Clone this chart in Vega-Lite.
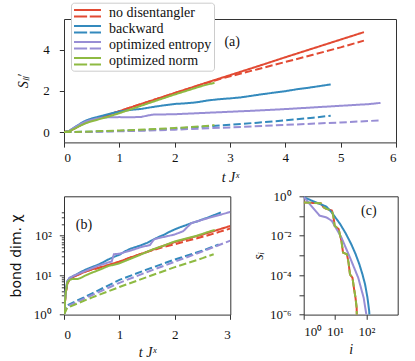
{
  "$schema": "https://vega.github.io/schema/vega-lite/v6.json",
  "padding": {"left": 8, "top": 2, "right": 5, "bottom": 5},
  "background": "white",
  "config": {
    "font": "Liberation Serif",
    "view": {"stroke": "#333", "strokeWidth": 1},
    "style": {"guide-label": {"font": "Liberation Serif"}, "guide-title": {"font": "Liberation Serif"}},
    "legend": {"labelFont": "Liberation Serif"},
    "axis": {"domain": false, "grid": false, "tickColor": "#333", "tickSize": 4.7, "labelPadding": 6,
      "labelFont": "Liberation Serif", "labelFontSize": 13, "labelColor": "#111",
      "titleFont": "Liberation Serif", "titleFontSize": 14, "titleFontWeight": "normal", "titleColor": "#111", "labelOverlap": false}
  },
  "datasets": {
    "a": [
      {"m":"no disentangler","k":"solid","x":0,"y":0},{"m":"no disentangler","k":"solid","x":0.1,"y":0.05},{"m":"no disentangler","k":"solid","x":0.2,"y":0.19},{"m":"no disentangler","k":"solid","x":0.3,"y":0.34},{"m":"no disentangler","k":"solid","x":0.4,"y":0.47},{"m":"no disentangler","k":"solid","x":0.5,"y":0.57},{"m":"no disentangler","k":"solid","x":0.6,"y":0.66},{"m":"no disentangler","k":"solid","x":0.8,"y":0.84},{"m":"no disentangler","k":"solid","x":1.0,"y":1.02},{"m":"no disentangler","k":"solid","x":1.5,"y":1.46},{"m":"no disentangler","k":"solid","x":2.0,"y":1.9},{"m":"no disentangler","k":"solid","x":2.5,"y":2.34},{"m":"no disentangler","k":"solid","x":3.0,"y":2.77},{"m":"no disentangler","k":"solid","x":3.5,"y":3.2},{"m":"no disentangler","k":"solid","x":4.0,"y":3.64},{"m":"no disentangler","k":"solid","x":4.5,"y":4.07},{"m":"no disentangler","k":"solid","x":5.0,"y":4.5},{"m":"no disentangler","k":"solid","x":5.42,"y":4.86},
      {"m":"no disentangler","k":"dashed","x":0,"y":0},{"m":"no disentangler","k":"dashed","x":0.1,"y":0.05},{"m":"no disentangler","k":"dashed","x":0.2,"y":0.19},{"m":"no disentangler","k":"dashed","x":0.3,"y":0.34},{"m":"no disentangler","k":"dashed","x":0.4,"y":0.47},{"m":"no disentangler","k":"dashed","x":0.5,"y":0.57},{"m":"no disentangler","k":"dashed","x":0.6,"y":0.66},{"m":"no disentangler","k":"dashed","x":0.8,"y":0.84},{"m":"no disentangler","k":"dashed","x":1.0,"y":1.02},{"m":"no disentangler","k":"dashed","x":1.5,"y":1.46},{"m":"no disentangler","k":"dashed","x":2.0,"y":1.9},{"m":"no disentangler","k":"dashed","x":2.5,"y":2.33},{"m":"no disentangler","k":"dashed","x":2.8,"y":2.57},{"m":"no disentangler","k":"dashed","x":3.0,"y":2.71},{"m":"no disentangler","k":"dashed","x":3.5,"y":3.06},{"m":"no disentangler","k":"dashed","x":4.0,"y":3.41},{"m":"no disentangler","k":"dashed","x":4.5,"y":3.76},{"m":"no disentangler","k":"dashed","x":5.0,"y":4.12},{"m":"no disentangler","k":"dashed","x":5.42,"y":4.45},
      {"m":"backward","k":"solid","x":0,"y":0},{"m":"backward","k":"solid","x":0.1,"y":0.07},{"m":"backward","k":"solid","x":0.2,"y":0.25},{"m":"backward","k":"solid","x":0.3,"y":0.42},{"m":"backward","k":"solid","x":0.4,"y":0.57},{"m":"backward","k":"solid","x":0.5,"y":0.66},{"m":"backward","k":"solid","x":0.6,"y":0.73},{"m":"backward","k":"solid","x":0.7,"y":0.8},{"m":"backward","k":"solid","x":0.8,"y":0.87},{"m":"backward","k":"solid","x":0.9,"y":0.94},{"m":"backward","k":"solid","x":1.0,"y":1.0},{"m":"backward","k":"solid","x":1.2,"y":1.08},{"m":"backward","k":"solid","x":1.4,"y":1.13},{"m":"backward","k":"solid","x":1.6,"y":1.22},{"m":"backward","k":"solid","x":1.8,"y":1.3},{"m":"backward","k":"solid","x":2.0,"y":1.37},{"m":"backward","k":"solid","x":2.2,"y":1.4},{"m":"backward","k":"solid","x":2.4,"y":1.45},{"m":"backward","k":"solid","x":2.6,"y":1.54},{"m":"backward","k":"solid","x":2.8,"y":1.6},{"m":"backward","k":"solid","x":3.0,"y":1.64},{"m":"backward","k":"solid","x":3.2,"y":1.69},{"m":"backward","k":"solid","x":3.4,"y":1.77},{"m":"backward","k":"solid","x":3.6,"y":1.85},{"m":"backward","k":"solid","x":3.8,"y":1.92},{"m":"backward","k":"solid","x":4.0,"y":1.99},{"m":"backward","k":"solid","x":4.2,"y":2.08},{"m":"backward","k":"solid","x":4.4,"y":2.15},{"m":"backward","k":"solid","x":4.6,"y":2.23},{"m":"backward","k":"solid","x":4.82,"y":2.32},
      {"m":"backward","k":"dashed","x":0,"y":0},{"m":"backward","k":"dashed","x":0.5,"y":0.02},{"m":"backward","k":"dashed","x":1.0,"y":0.06},{"m":"backward","k":"dashed","x":1.5,"y":0.11},{"m":"backward","k":"dashed","x":2.0,"y":0.17},{"m":"backward","k":"dashed","x":2.5,"y":0.26},{"m":"backward","k":"dashed","x":3.0,"y":0.36},{"m":"backward","k":"dashed","x":3.5,"y":0.46},{"m":"backward","k":"dashed","x":4.0,"y":0.57},{"m":"backward","k":"dashed","x":4.5,"y":0.7},{"m":"backward","k":"dashed","x":4.82,"y":0.8},
      {"m":"optimized entropy","k":"solid","x":0,"y":0},{"m":"optimized entropy","k":"solid","x":0.1,"y":0.07},{"m":"optimized entropy","k":"solid","x":0.2,"y":0.24},{"m":"optimized entropy","k":"solid","x":0.3,"y":0.4},{"m":"optimized entropy","k":"solid","x":0.4,"y":0.52},{"m":"optimized entropy","k":"solid","x":0.5,"y":0.6},{"m":"optimized entropy","k":"solid","x":0.6,"y":0.66},{"m":"optimized entropy","k":"solid","x":0.7,"y":0.7},{"m":"optimized entropy","k":"solid","x":0.8,"y":0.72},{"m":"optimized entropy","k":"solid","x":1.0,"y":0.73},{"m":"optimized entropy","k":"solid","x":1.2,"y":0.72},{"m":"optimized entropy","k":"solid","x":1.4,"y":0.74},{"m":"optimized entropy","k":"solid","x":1.5,"y":0.8},{"m":"optimized entropy","k":"solid","x":1.6,"y":0.85},{"m":"optimized entropy","k":"solid","x":1.8,"y":0.86},{"m":"optimized entropy","k":"solid","x":2.0,"y":0.87},{"m":"optimized entropy","k":"solid","x":2.5,"y":0.93},{"m":"optimized entropy","k":"solid","x":3.0,"y":0.99},{"m":"optimized entropy","k":"solid","x":3.5,"y":1.05},{"m":"optimized entropy","k":"solid","x":4.0,"y":1.12},{"m":"optimized entropy","k":"solid","x":4.5,"y":1.2},{"m":"optimized entropy","k":"solid","x":5.0,"y":1.28},{"m":"optimized entropy","k":"solid","x":5.5,"y":1.36},{"m":"optimized entropy","k":"solid","x":5.72,"y":1.42},
      {"m":"optimized entropy","k":"dashed","x":0,"y":0},{"m":"optimized entropy","k":"dashed","x":0.5,"y":0.01},{"m":"optimized entropy","k":"dashed","x":1.0,"y":0.04},{"m":"optimized entropy","k":"dashed","x":1.5,"y":0.07},{"m":"optimized entropy","k":"dashed","x":2.0,"y":0.12},{"m":"optimized entropy","k":"dashed","x":3.0,"y":0.23},{"m":"optimized entropy","k":"dashed","x":4.0,"y":0.35},{"m":"optimized entropy","k":"dashed","x":5.0,"y":0.47},{"m":"optimized entropy","k":"dashed","x":5.72,"y":0.57},
      {"m":"optimized norm","k":"solid","x":0,"y":0},{"m":"optimized norm","k":"solid","x":0.1,"y":0.05},{"m":"optimized norm","k":"solid","x":0.2,"y":0.18},{"m":"optimized norm","k":"solid","x":0.3,"y":0.32},{"m":"optimized norm","k":"solid","x":0.4,"y":0.44},{"m":"optimized norm","k":"solid","x":0.5,"y":0.53},{"m":"optimized norm","k":"solid","x":0.6,"y":0.6},{"m":"optimized norm","k":"solid","x":0.8,"y":0.75},{"m":"optimized norm","k":"solid","x":1.0,"y":0.92},{"m":"optimized norm","k":"solid","x":1.5,"y":1.38},{"m":"optimized norm","k":"solid","x":2.0,"y":1.83},{"m":"optimized norm","k":"solid","x":2.5,"y":2.25},{"m":"optimized norm","k":"solid","x":2.72,"y":2.4},
      {"m":"optimized norm","k":"dashed","x":0,"y":0},{"m":"optimized norm","k":"dashed","x":0.5,"y":0.03},{"m":"optimized norm","k":"dashed","x":1.0,"y":0.08},{"m":"optimized norm","k":"dashed","x":1.5,"y":0.13},{"m":"optimized norm","k":"dashed","x":2.0,"y":0.2},{"m":"optimized norm","k":"dashed","x":2.5,"y":0.28},{"m":"optimized norm","k":"dashed","x":2.72,"y":0.34}
    ],
    "b": [
      {"m":"no disentangler","k":"solid","x":0,"y":1},{"m":"no disentangler","k":"solid","x":0.03,"y":3.5},{"m":"no disentangler","k":"solid","x":0.06,"y":6},{"m":"no disentangler","k":"solid","x":0.1,"y":8},{"m":"no disentangler","k":"solid","x":0.2,"y":9.5},{"m":"no disentangler","k":"solid","x":0.3,"y":11},{"m":"no disentangler","k":"solid","x":0.4,"y":12.5},{"m":"no disentangler","k":"solid","x":0.5,"y":14},{"m":"no disentangler","k":"solid","x":0.6,"y":15},{"m":"no disentangler","k":"solid","x":0.8,"y":18},{"m":"no disentangler","k":"solid","x":1.0,"y":22},{"m":"no disentangler","k":"solid","x":1.2,"y":28},{"m":"no disentangler","k":"solid","x":1.4,"y":35},{"m":"no disentangler","k":"solid","x":1.6,"y":44},{"m":"no disentangler","k":"solid","x":1.8,"y":56},{"m":"no disentangler","k":"solid","x":2.0,"y":69},{"m":"no disentangler","k":"solid","x":2.2,"y":82},{"m":"no disentangler","k":"solid","x":2.4,"y":98},{"m":"no disentangler","k":"solid","x":2.6,"y":118},{"m":"no disentangler","k":"solid","x":2.8,"y":145},{"m":"no disentangler","k":"solid","x":3.0,"y":177},
      {"m":"no disentangler","k":"dashed","x":0,"y":1},{"m":"no disentangler","k":"dashed","x":0.03,"y":3.5},{"m":"no disentangler","k":"dashed","x":0.06,"y":6},{"m":"no disentangler","k":"dashed","x":0.1,"y":8},{"m":"no disentangler","k":"dashed","x":0.2,"y":9.5},{"m":"no disentangler","k":"dashed","x":0.3,"y":11},{"m":"no disentangler","k":"dashed","x":0.4,"y":12.5},{"m":"no disentangler","k":"dashed","x":0.5,"y":14},{"m":"no disentangler","k":"dashed","x":0.6,"y":15},{"m":"no disentangler","k":"dashed","x":0.8,"y":18},{"m":"no disentangler","k":"dashed","x":1.0,"y":22},{"m":"no disentangler","k":"dashed","x":1.2,"y":28},{"m":"no disentangler","k":"dashed","x":1.4,"y":35},{"m":"no disentangler","k":"dashed","x":1.6,"y":43},{"m":"no disentangler","k":"dashed","x":1.8,"y":52},{"m":"no disentangler","k":"dashed","x":2.0,"y":61},{"m":"no disentangler","k":"dashed","x":2.2,"y":73},{"m":"no disentangler","k":"dashed","x":2.4,"y":86},{"m":"no disentangler","k":"dashed","x":2.6,"y":103},{"m":"no disentangler","k":"dashed","x":2.8,"y":125},{"m":"no disentangler","k":"dashed","x":3.0,"y":152},
      {"m":"backward","k":"solid","x":0,"y":1},{"m":"backward","k":"solid","x":0.03,"y":4},{"m":"backward","k":"solid","x":0.06,"y":7},{"m":"backward","k":"solid","x":0.1,"y":8.5},{"m":"backward","k":"solid","x":0.2,"y":10},{"m":"backward","k":"solid","x":0.3,"y":12},{"m":"backward","k":"solid","x":0.4,"y":14},{"m":"backward","k":"solid","x":0.5,"y":16},{"m":"backward","k":"solid","x":0.6,"y":18},{"m":"backward","k":"solid","x":0.7,"y":21},{"m":"backward","k":"solid","x":0.8,"y":25},{"m":"backward","k":"solid","x":0.9,"y":29},{"m":"backward","k":"solid","x":1.0,"y":33},{"m":"backward","k":"solid","x":1.1,"y":40},{"m":"backward","k":"solid","x":1.2,"y":47},{"m":"backward","k":"solid","x":1.3,"y":52},{"m":"backward","k":"solid","x":1.4,"y":58},{"m":"backward","k":"solid","x":1.5,"y":66},{"m":"backward","k":"solid","x":1.6,"y":78},{"m":"backward","k":"solid","x":1.7,"y":92},{"m":"backward","k":"solid","x":1.8,"y":105},{"m":"backward","k":"solid","x":1.9,"y":125},{"m":"backward","k":"solid","x":2.0,"y":145},{"m":"backward","k":"solid","x":2.1,"y":165},{"m":"backward","k":"solid","x":2.2,"y":185},{"m":"backward","k":"solid","x":2.3,"y":210},{"m":"backward","k":"solid","x":2.4,"y":230},{"m":"backward","k":"solid","x":2.5,"y":260},{"m":"backward","k":"solid","x":2.6,"y":290},{"m":"backward","k":"solid","x":2.7,"y":330},{"m":"backward","k":"solid","x":2.83,"y":390},
      {"m":"backward","k":"dashed","x":0,"y":1},{"m":"backward","k":"dashed","x":0.05,"y":1.7},{"m":"backward","k":"dashed","x":0.5,"y":3.4},{"m":"backward","k":"dashed","x":1.0,"y":7.6},{"m":"backward","k":"dashed","x":1.5,"y":14},{"m":"backward","k":"dashed","x":2.0,"y":25},{"m":"backward","k":"dashed","x":2.5,"y":42},{"m":"backward","k":"dashed","x":2.79,"y":60},
      {"m":"optimized entropy","k":"solid","x":0,"y":1},{"m":"optimized entropy","k":"solid","x":0.03,"y":4},{"m":"optimized entropy","k":"solid","x":0.06,"y":7},{"m":"optimized entropy","k":"solid","x":0.1,"y":8.5},{"m":"optimized entropy","k":"solid","x":0.2,"y":10},{"m":"optimized entropy","k":"solid","x":0.4,"y":13},{"m":"optimized entropy","k":"solid","x":0.6,"y":17},{"m":"optimized entropy","k":"solid","x":0.8,"y":21},{"m":"optimized entropy","k":"solid","x":0.86,"y":22},{"m":"optimized entropy","k":"solid","x":0.9,"y":34},{"m":"optimized entropy","k":"solid","x":1.0,"y":35},{"m":"optimized entropy","k":"solid","x":1.2,"y":42},{"m":"optimized entropy","k":"solid","x":1.4,"y":52},{"m":"optimized entropy","k":"solid","x":1.55,"y":58},{"m":"optimized entropy","k":"solid","x":1.62,"y":80},{"m":"optimized entropy","k":"solid","x":1.7,"y":87},{"m":"optimized entropy","k":"solid","x":1.9,"y":100},{"m":"optimized entropy","k":"solid","x":2.0,"y":108},{"m":"optimized entropy","k":"solid","x":2.15,"y":130},{"m":"optimized entropy","k":"solid","x":2.25,"y":180},{"m":"optimized entropy","k":"solid","x":2.3,"y":210},{"m":"optimized entropy","k":"solid","x":2.6,"y":280},{"m":"optimized entropy","k":"solid","x":2.8,"y":335},{"m":"optimized entropy","k":"solid","x":3.0,"y":400},
      {"m":"optimized entropy","k":"dashed","x":0,"y":1},{"m":"optimized entropy","k":"dashed","x":0.05,"y":1.6},{"m":"optimized entropy","k":"dashed","x":0.5,"y":3.1},{"m":"optimized entropy","k":"dashed","x":1.0,"y":6.4},{"m":"optimized entropy","k":"dashed","x":1.5,"y":12},{"m":"optimized entropy","k":"dashed","x":2.0,"y":22},{"m":"optimized entropy","k":"dashed","x":2.5,"y":40},{"m":"optimized entropy","k":"dashed","x":3.0,"y":75},
      {"m":"optimized norm","k":"solid","x":0,"y":1},{"m":"optimized norm","k":"solid","x":0.03,"y":3.5},{"m":"optimized norm","k":"solid","x":0.06,"y":6.5},{"m":"optimized norm","k":"solid","x":0.1,"y":7.5},{"m":"optimized norm","k":"solid","x":0.15,"y":8},{"m":"optimized norm","k":"solid","x":0.25,"y":8},{"m":"optimized norm","k":"solid","x":0.3,"y":8.5},{"m":"optimized norm","k":"solid","x":0.4,"y":10},{"m":"optimized norm","k":"solid","x":0.5,"y":11.5},{"m":"optimized norm","k":"solid","x":0.6,"y":13},{"m":"optimized norm","k":"solid","x":0.8,"y":17},{"m":"optimized norm","k":"solid","x":1.0,"y":20},{"m":"optimized norm","k":"solid","x":1.2,"y":26},{"m":"optimized norm","k":"solid","x":1.4,"y":34},{"m":"optimized norm","k":"solid","x":1.6,"y":45},{"m":"optimized norm","k":"solid","x":1.8,"y":56},{"m":"optimized norm","k":"solid","x":2.0,"y":72},{"m":"optimized norm","k":"solid","x":2.2,"y":85},{"m":"optimized norm","k":"solid","x":2.4,"y":100},{"m":"optimized norm","k":"solid","x":2.6,"y":125},{"m":"optimized norm","k":"solid","x":2.72,"y":140},
      {"m":"optimized norm","k":"dashed","x":0,"y":1},{"m":"optimized norm","k":"dashed","x":0.06,"y":1.5},{"m":"optimized norm","k":"dashed","x":0.5,"y":2.7},{"m":"optimized norm","k":"dashed","x":1.0,"y":5.0},{"m":"optimized norm","k":"dashed","x":1.5,"y":9},{"m":"optimized norm","k":"dashed","x":2.0,"y":16},{"m":"optimized norm","k":"dashed","x":2.5,"y":27},{"m":"optimized norm","k":"dashed","x":2.7,"y":34}
    ],
    "c": [
      {"m":"no disentangler","k":"solid","x":1,"y":0.49},{"m":"no disentangler","k":"solid","x":3.5,"y":0.44},{"m":"no disentangler","k":"solid","x":4.3,"y":0.28},{"m":"no disentangler","k":"solid","x":5.3,"y":0.23},{"m":"no disentangler","k":"solid","x":7.9,"y":0.19},{"m":"no disentangler","k":"solid","x":8.8,"y":0.105},{"m":"no disentangler","k":"solid","x":9.7,"y":0.032},{"m":"no disentangler","k":"solid","x":13,"y":0.022},{"m":"no disentangler","k":"solid","x":16,"y":0.0055},{"m":"no disentangler","k":"solid","x":18,"y":0.0014},{"m":"no disentangler","k":"solid","x":24,"y":0.00115},{"m":"no disentangler","k":"solid","x":27,"y":0.00043},{"m":"no disentangler","k":"solid","x":30,"y":0.00011},{"m":"no disentangler","k":"solid","x":36,"y":0.000074},{"m":"no disentangler","k":"solid","x":40,"y":0.000023},{"m":"no disentangler","k":"solid","x":45,"y":0.0000071},{"m":"no disentangler","k":"solid","x":49,"y":0.0000022},{"m":"no disentangler","k":"solid","x":49.5,"y":0.000001},{"m":"no disentangler","k":"solid","x":50,"y":0.0000001},
      {"m":"backward","k":"solid","x":1,"y":0.9},{"m":"backward","k":"solid","x":2.9,"y":0.44},{"m":"backward","k":"solid","x":5.3,"y":0.3},{"m":"backward","k":"solid","x":7.9,"y":0.15},{"m":"backward","k":"solid","x":14.6,"y":0.039},{"m":"backward","k":"solid","x":22,"y":0.013},{"m":"backward","k":"solid","x":33,"y":0.0037},{"m":"backward","k":"solid","x":45,"y":0.0012},{"m":"backward","k":"solid","x":60,"y":0.00035},{"m":"backward","k":"solid","x":75,"y":0.00011},{"m":"backward","k":"solid","x":91,"y":0.000034},{"m":"backward","k":"solid","x":108,"y":0.0000075},{"m":"backward","k":"solid","x":123,"y":0.0000015},{"m":"backward","k":"solid","x":130,"y":0.0000003},
      {"m":"optimized entropy","k":"solid","x":1,"y":0.93},{"m":"optimized entropy","k":"solid","x":3.2,"y":0.105},{"m":"optimized entropy","k":"solid","x":5.3,"y":0.085},{"m":"optimized entropy","k":"solid","x":7.9,"y":0.057},{"m":"optimized entropy","k":"solid","x":16,"y":0.0081},{"m":"optimized entropy","k":"solid","x":30,"y":0.00078},{"m":"optimized entropy","k":"solid","x":55,"y":0.000074},{"m":"optimized entropy","k":"solid","x":82,"y":0.0000071},{"m":"optimized entropy","k":"solid","x":100,"y":0.000001},{"m":"optimized entropy","k":"solid","x":105,"y":0.0000003},
      {"m":"optimized norm","k":"dashed","x":1,"y":0.49},{"m":"optimized norm","k":"dashed","x":3.5,"y":0.44},{"m":"optimized norm","k":"dashed","x":4.3,"y":0.28},{"m":"optimized norm","k":"dashed","x":5.3,"y":0.23},{"m":"optimized norm","k":"dashed","x":7.9,"y":0.19},{"m":"optimized norm","k":"dashed","x":8.8,"y":0.105},{"m":"optimized norm","k":"dashed","x":9.7,"y":0.032},{"m":"optimized norm","k":"dashed","x":13,"y":0.022},{"m":"optimized norm","k":"dashed","x":16,"y":0.0055},{"m":"optimized norm","k":"dashed","x":18,"y":0.0014},{"m":"optimized norm","k":"dashed","x":24,"y":0.00115},{"m":"optimized norm","k":"dashed","x":27,"y":0.00043},{"m":"optimized norm","k":"dashed","x":30,"y":0.00011},{"m":"optimized norm","k":"dashed","x":36,"y":0.000074},{"m":"optimized norm","k":"dashed","x":40,"y":0.000023},{"m":"optimized norm","k":"dashed","x":45,"y":0.0000071},{"m":"optimized norm","k":"dashed","x":49,"y":0.0000022},{"m":"optimized norm","k":"dashed","x":49.5,"y":0.000001},{"m":"optimized norm","k":"dashed","x":50,"y":0.0000001}
    ]
  },
  "vconcat": [
    {
      "width": 332, "height": 123.4,
      "layer": [
        {
          "data": {"name": "a"},
          "mark": {"type": "line", "strokeWidth": 2, "clip": true},
          "encoding": {
            "x": {"field": "x", "type": "quantitative", "scale": {"domain": [0, 6]},
              "axis": {"values": [0,1,2,3,4,5,6], "format": "d", "title": "t Jˣ", "titleFontStyle": "italic", "labelPadding": 4, "titlePadding": 6}},
            "y": {"field": "y", "type": "quantitative", "scale": {"domain": [-0.49, 5.05]},
              "axis": {"values": [0,2,4], "format": "d", "title": "Sₗₗ′", "titleFontStyle": "italic", "labelPadding": 10, "titlePadding": 12}},
            "color": {"field": "m", "type": "nominal",
              "scale": {"domain": ["no disentangler","backward","optimized entropy","optimized norm"], "range": ["#E24A33","#348ABD","#988ED5","#8EBA42"]},
              "legend": {"orient": "none", "legendX": 7, "legendY": -16.3, "title": null,
                "symbolType": "M-1.8,-0.43H1.8M-1.8,0.43H-0.05M0.3,0.43H1.8", "symbolSize": 225, "symbolStrokeWidth": 2,
                "symbolFillColor": "transparent", "symbolOffset": 6, "labelOffset": 13,
                "labelFont": "Liberation Serif", "labelFontSize": 14, "labelColor": "#111",
                "fillColor": "white", "strokeColor": "#cccccc", "cornerRadius": 3, "padding": 2, "rowPadding": 0}},
            "strokeDash": {"field": "k", "type": "nominal", "scale": {"domain": ["solid","dashed"], "range": [[1,0],[7.4,3.2]]}, "legend": null}
          }
        },
        {
          "data": {"values": [{"x": 3.04, "y": 4.39, "t": "(a)"}]},
          "mark": {"type": "text", "font": "Liberation Serif", "fontSize": 14, "color": "#111"},
          "encoding": {"x": {"field": "x", "type": "quantitative"}, "y": {"field": "y", "type": "quantitative"}, "text": {"field": "t"}}
        }
      ]
    },
    {
      "hconcat": [
        {
          "width": 166.3, "height": 118.3,
          "layer": [
            {
              "data": {"name": "b"},
              "mark": {"type": "line", "strokeWidth": 2, "clip": true},
              "encoding": {
                "x": {"field": "x", "type": "quantitative", "scale": {"domain": [0, 3]},
                  "axis": {"values": [0,1,2,3], "format": "d", "title": "t Jˣ", "titleFontStyle": "italic", "labelPadding": 9, "titlePadding": 4}},
                "y": {"field": "y", "type": "quantitative", "scale": {"type": "log", "domain": [1, 420]},
                  "axis": {"values": [1,2,3,4,5,6,7,8,9,10,20,30,40,50,60,70,80,90,100,200,300,400],
                    "labelExpr": "datum.value == 1 ? '10⁰' : datum.value == 10 ? '10¹' : datum.value == 100 ? '10²' : ''",
                    "tickSize": {"condition": {"test": "datum.value == 1 || datum.value == 10 || datum.value == 100", "value": 4.7}, "value": 2.7},
                    "title": "bond dim. χ", "titleFont": "DejaVu Sans", "titleFontSize": 14, "labelPadding": 8, "titlePadding": 10}},
                "color": {"field": "m", "type": "nominal", "legend": null},
                "strokeDash": {"field": "k", "type": "nominal", "legend": null}
              }
            },
            {
              "mark": {"type": "rule", "strokeDash": [2.5, 2], "color": "#555", "strokeWidth": 1.2},
              "encoding": {"x": {"datum": 2}}
            },
            {
              "data": {"values": [{"x": 0.36, "y": 190, "t": "(b)"}]},
              "mark": {"type": "text", "font": "Liberation Serif", "fontSize": 14, "color": "#111"},
              "encoding": {"x": {"field": "x", "type": "quantitative"}, "y": {"field": "y", "type": "quantitative"}, "text": {"field": "t"}}
            }
          ]
        },
        {
          "width": 94, "height": 118.3,
          "layer": [
            {
              "data": {"name": "c"},
              "mark": {"type": "line", "strokeWidth": 2, "clip": true},
              "encoding": {
                "x": {"field": "x", "type": "quantitative", "scale": {"type": "log", "domain": [1, 300]},
                  "axis": {"values": [1, 10, 100], "labelExpr": "datum.value == 1 ? '10⁰' : datum.value == 10 ? '10¹' : '10²'", "title": "i", "titleFontStyle": "italic", "labelPadding": 6, "titlePadding": 4}},
                "y": {"field": "y", "type": "quantitative", "scale": {"type": "log", "domain": [0.000001, 1]},
                  "axis": {"values": [0.000001, 0.00001, 0.0001, 0.001, 0.01, 0.1, 1],
                    "labelExpr": "round(log(datum.value)/LN10) == 0 ? '10⁰' : round(log(datum.value)/LN10) == -2 ? '10⁻²' : round(log(datum.value)/LN10) == -4 ? '10⁻⁴' : round(log(datum.value)/LN10) == -6 ? '10⁻⁶' : ''",
                    "title": "sᵢ", "titleFontStyle": "italic", "labelPadding": 8, "titlePadding": 4}},
                "color": {"field": "m", "type": "nominal", "legend": null},
                "strokeDash": {"field": "k", "type": "nominal", "legend": null}
              }
            },
            {
              "data": {"values": [{"x": 120, "y": 0.19, "t": "(c)"}]},
              "mark": {"type": "text", "font": "Liberation Serif", "fontSize": 14, "color": "#111"},
              "encoding": {"x": {"field": "x", "type": "quantitative"}, "y": {"field": "y", "type": "quantitative"}, "text": {"field": "t"}}
            }
          ]
        }
      ],
      "spacing": 72.7,
      "bounds": "flush"
    }
  ],
  "spacing": 53.3,
  "bounds": "flush"
}
